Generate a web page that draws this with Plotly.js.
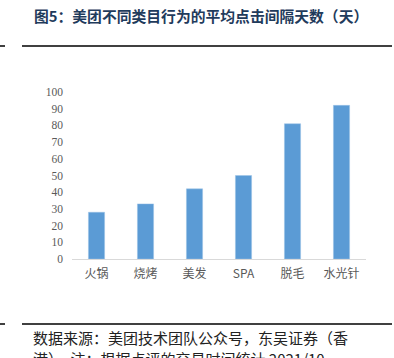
<!DOCTYPE html>
<html><head><meta charset="utf-8">
<script src="https://cdn.plot.ly/plotly-3.0.1.min.js"></script>
<style>html,body{margin:0;padding:0;background:#fff;}#c{width:394px;height:358px;}</style>
</head><body><div id="c"></div>
<script>
const categories = ["火锅","烧烤","美发","SPA","脱毛","水光针"];
const values = [28, 33, 42, 50, 81, 92];
const yTicks = [0,10,20,30,40,50,60,70,80,90,100];
const titleText = "图5：美团不同类目行为的平均点击间隔天数（天）";
const sourceLine1 = "数据来源：美团技术团队公众号，东吴证券（香";
const sourceLine2 = "港）。注：根据点评的交易时间统计 2021/10";

const plotL = 72, plotR = 366, plotT = 92, plotB = 259;
const px = x => (x - plotL) / (plotR - plotL);
const py = y => (plotB - y) / (plotB - plotT);
const cjk = '"Noto Sans CJK SC", sans-serif';

Plotly.newPlot('c', [{
  type: 'bar', x: categories, y: values,
  marker: {color: '#5b9bd5', line: {color: '#9dc3e6', width: 0.5}},
  hoverinfo: 'none'
}], {
  width: 394, height: 358,
  margin: {l: plotL, r: 394 - plotR, t: plotT, b: 358 - plotB},
  paper_bgcolor: '#fff', plot_bgcolor: '#fff',
  bargap: 0.67,
  showlegend: false,
  xaxis: {
    showgrid: false, zeroline: false, showline: true, linecolor: '#d9d9d9', linewidth: 1,
    ticks: '', tickfont: {family: cjk, size: 12, color: '#595959'}, ticklabelstandoff: 4
  },
  yaxis: {
    range: [0, 100], tickvals: yTicks, showgrid: false, zeroline: false, showline: false,
    ticks: '', tickfont: {family: '"Liberation Serif", serif', size: 11.5, color: '#595959'},
    ticklabelstandoff: 8
  },
  shapes: [
    {type: 'line', xref: 'paper', yref: 'paper', x0: px(22), x1: px(392), y0: py(46), y1: py(46), line: {color: '#000', width: 1.5}},
    {type: 'line', xref: 'paper', yref: 'paper', x0: px(0), x1: px(5), y0: py(46), y1: py(46), line: {color: '#000', width: 1.5}},
    {type: 'line', xref: 'paper', yref: 'paper', x0: px(22), x1: px(392), y0: py(324), y1: py(324), line: {color: '#000', width: 1.5}},
    {type: 'line', xref: 'paper', yref: 'paper', x0: px(0), x1: px(5), y0: py(324), y1: py(324), line: {color: '#000', width: 1.5}}
  ],
  annotations: [
    {text: '<b>' + titleText + '</b>', xref: 'paper', yref: 'paper', x: px(32), y: py(15), xanchor: 'left', yanchor: 'middle', showarrow: false,
     font: {family: cjk, size: 14.8, color: '#1f3b5c'}},
    {text: sourceLine1, xref: 'paper', yref: 'paper', x: px(31), y: py(337), xanchor: 'left', yanchor: 'middle', showarrow: false,
     font: {family: cjk, size: 15, color: '#222'}},
    {text: sourceLine2, xref: 'paper', yref: 'paper', x: px(31), y: py(358), xanchor: 'left', yanchor: 'middle', showarrow: false,
     font: {family: cjk, size: 15, color: '#222'}}
  ]
}, {displayModeBar: false, staticPlot: true});
</script></body></html>
